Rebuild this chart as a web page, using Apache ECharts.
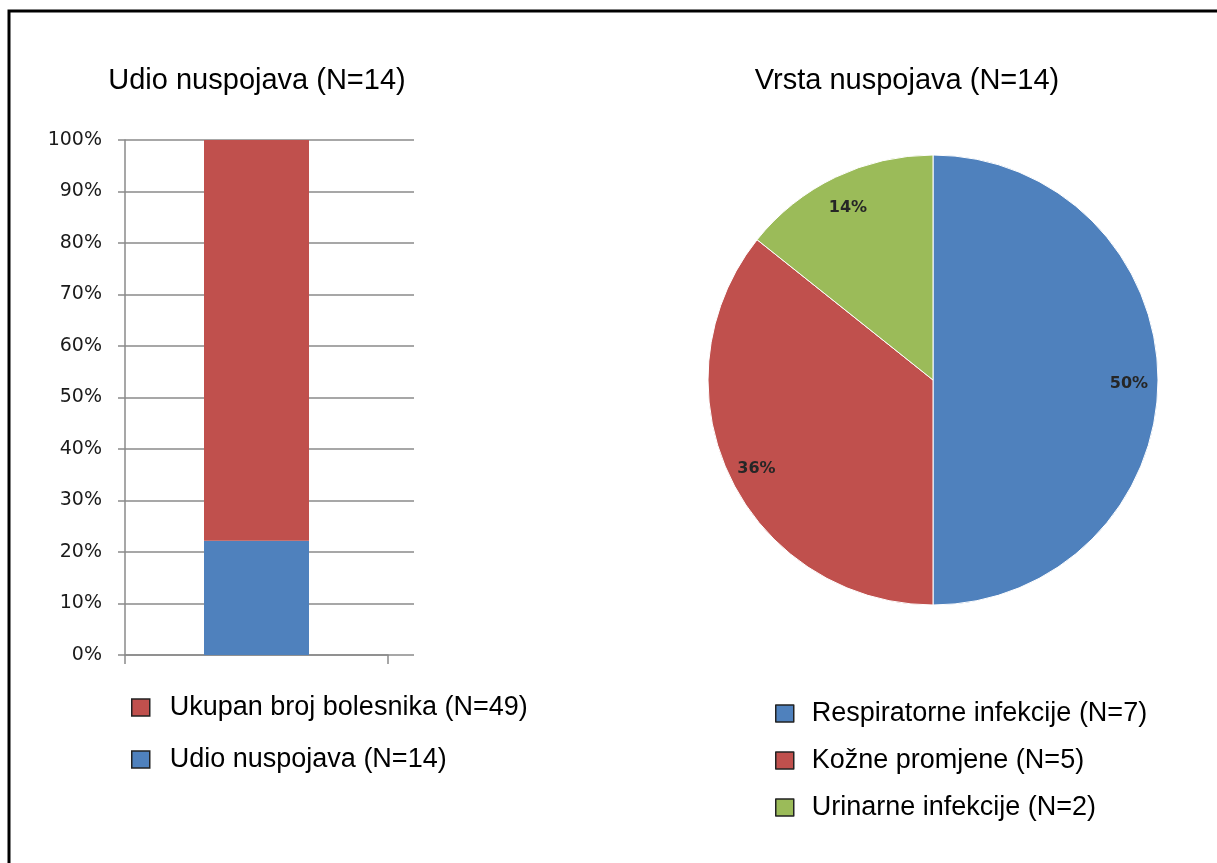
<!DOCTYPE html>
<html>
<head>
<meta charset="utf-8">
<script src="https://cdn.jsdelivr.net/npm/echarts@6/dist/echarts.min.js"></script>
<style>
	body { margin: 0; background: #fff; }
	#main { width: 1217px; height: 863px; }
</style>
</head>
<body>
<div id="main"></div>
<script>
let chart = echarts.init(document.getElementById('main'));

// lijevi graf - udio u 100% stupcu
const barCategory = ['Bolesnici'];
const barNames = ['Ukupan broj bolesnika (N=49)', 'Udio nuspojava (N=14)'];
const udioPct = [22.2];
const ukupanPct = [77.8];

// desni graf - vrsta nuspojava
const pieNames = ['Respiratorne infekcije (N=7)', 'Kožne promjene (N=5)', 'Urinarne infekcije (N=2)'];
const pieValues = [7, 5, 2];
const pieColors = ['#4F81BD', '#C0504D', '#9BBB59'];

const font = 'Liberation Sans, Arial, sans-serif';
const gray = '#8a8a8a';

let pieData = pieNames.map(function(n, i) {
	return { name: n, value: pieValues[i], itemStyle: { color: pieColors[i] } };
});

option = {
	animation: false,
	backgroundColor: '#fff',
	graphic: [{
		type: 'polyline',
		shape: { points: [[9, 863], [9, 11], [1217, 11]] },
		style: { stroke: '#000', lineWidth: 3, fill: null }
	}],
	title: [{
		text: 'Udio nuspojava (N=14)',
		left: 252,
		top: 61,
		textAlign: 'center',
		textStyle: { fontFamily: font, fontSize: 29, fontWeight: 'normal', color: '#000' }
	}, {
		text: 'Vrsta nuspojava (N=14)',
		left: 902,
		top: 61,
		textAlign: 'center',
		textStyle: { fontFamily: font, fontSize: 29, fontWeight: 'normal', color: '#000' }
	}],
	legend: [{
		data: barNames,
		orient: 'vertical',
		left: 126,
		top: 689,
		icon: 'rect',
		itemWidth: 18,
		itemHeight: 17,
		itemGap: 25,
		itemStyle: { borderColor: '#222', borderWidth: 1.5 },
		textStyle: { fontFamily: font, fontSize: 27, color: '#000', padding: [0, 0, 0, 15] }
	}, {
		data: pieNames,
		orient: 'vertical',
		left: 770,
		top: 695,
		icon: 'rect',
		itemWidth: 18,
		itemHeight: 17,
		itemGap: 20,
		itemStyle: { borderColor: '#222', borderWidth: 1.5 },
		textStyle: { fontFamily: font, fontSize: 27, color: '#000', padding: [0, 0, 0, 13] }
	}],
	grid: [
		{ left: 125, right: 829, top: 140, bottom: 208 },
		{ left: 125, right: 803, top: 140, bottom: 208 }
	],
	xAxis: [{
		type: 'category',
		gridIndex: 0,
		data: barCategory,
		axisLine: { lineStyle: { color: gray, width: 1.5 } },
		axisTick: { show: true, length: 9, lineStyle: { color: gray, width: 1.5 } },
		axisLabel: { show: false }
	}, {
		type: 'category',
		gridIndex: 1,
		data: barCategory,
		show: false
	}],
	yAxis: [{
		type: 'value',
		gridIndex: 0,
		min: 0,
		max: 100,
		interval: 10,
		show: false
	}, {
		type: 'value',
		gridIndex: 1,
		min: 0,
		max: 100,
		interval: 10,
		axisLine: { show: true, lineStyle: { color: gray, width: 1.5 } },
		axisTick: { show: true, length: 7, lineStyle: { color: gray, width: 1.5 } },
		splitLine: { lineStyle: { color: gray, width: 1.5 } },
		axisLabel: {
			formatter: '{value}%',
			margin: 23,
			fontFamily: 'DejaVu Sans, Verdana, sans-serif',
			fontSize: 19,
			color: '#1a1a1a'
		}
	}],
	series: [{
		name: barNames[1],
		type: 'bar',
		stack: 'udio',
		xAxisIndex: 0,
		yAxisIndex: 0,
		barWidth: 105,
		data: udioPct,
		itemStyle: { color: '#4F81BD' }
	}, {
		name: barNames[0],
		type: 'bar',
		stack: 'udio',
		xAxisIndex: 0,
		yAxisIndex: 0,
		barWidth: 105,
		data: ukupanPct,
		itemStyle: { color: '#C0504D' }
	}, {
		type: 'pie',
		center: [933, 380],
		radius: 225,
		startAngle: 90,
		clockwise: true,
		data: pieData,
		label: { show: false },
		labelLine: { show: false },
		itemStyle: { borderColor: '#fff', borderWidth: 1 },
		emphasis: { disabled: true }
	}, {
		// samo za natpise postotaka blize rubu
		type: 'pie',
		center: [933, 384],
		radius: [161, 225],
		startAngle: 90,
		clockwise: true,
		silent: true,
		legendHoverLink: false,
		data: pieData.map(function(d) { return { name: d.name, value: d.value, itemStyle: { color: 'rgba(0,0,0,0)' } }; }),
		label: {
			show: true,
			position: 'inside',
			formatter: function(p) { return Math.round(p.percent) + '%'; },
			fontFamily: 'DejaVu Sans, Verdana, sans-serif',
			fontSize: 16,
			fontWeight: 'bold',
			color: '#262626'
		},
		labelLine: { show: false }
	}]
};

chart.setOption(option, true);
</script>
</body>
</html>
